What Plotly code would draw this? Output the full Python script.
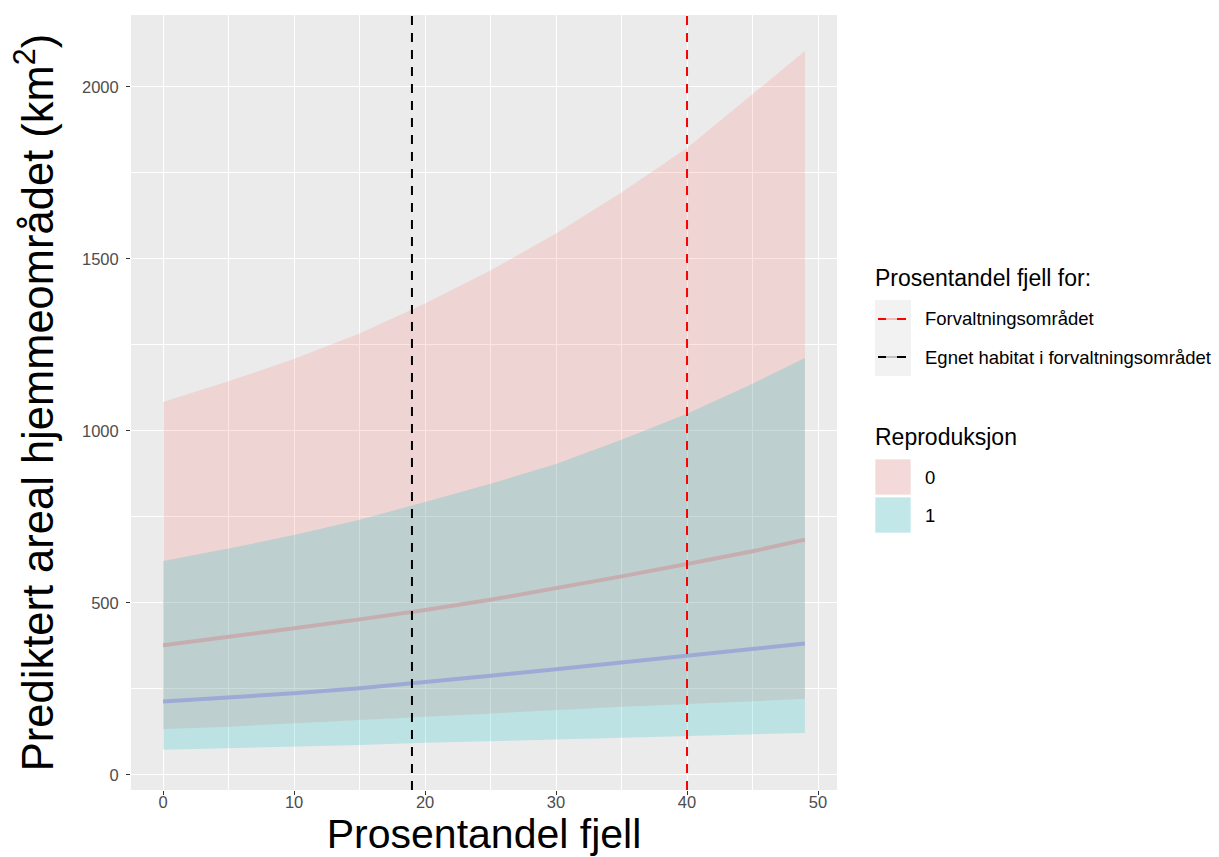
import plotly.graph_objects as go

# ---- data ----
prosent_fjell = [0, 5, 10, 15, 20, 25, 30, 35, 40, 45, 49]

# Reproduksjon = 0
fit_0 = [377, 401, 426, 452, 479, 509, 542, 577, 613, 650, 684]
lower_0 = [133, 140, 150, 160, 169, 180, 190, 198, 206, 215, 221]
upper_0 = [1084, 1144, 1209, 1283, 1370, 1466, 1574, 1693, 1822, 1978, 2104]

# Reproduksjon = 1
fit_1 = [213, 224, 237, 252, 269, 288, 307, 326, 345, 365, 382]
lower_1 = [73, 77, 82, 87, 93, 98, 103, 108, 113, 118, 122]
upper_1 = [622, 658, 697, 742, 793, 846, 904, 974, 1050, 1137, 1212]

# vertical reference lines
vline_labels = ["Forvaltningsområdet", "Egnet habitat i forvaltningsområdet"]
vline_values = [40, 19]
vline_colors = ["#FF0000", "#000000"]

repro_levels = ["0", "1"]
repro_fill = ["rgba(248,118,109,0.2)", "rgba(0,191,196,0.2)"]
line_colors = ["rgb(198,174,176)", "rgb(158,170,214)"]

FONT = "Liberation Sans, Arial, Helvetica, sans-serif"

fig = go.Figure()

ribbons = [(lower_0, upper_0), (lower_1, upper_1)]
for (lo, up), fc in zip(ribbons, repro_fill):
    fig.add_trace(go.Scatter(x=prosent_fjell, y=lo, mode="lines",
                             line=dict(width=0, color=fc), showlegend=False,
                             hoverinfo="skip"))
    fig.add_trace(go.Scatter(x=prosent_fjell, y=up, mode="lines",
                             line=dict(width=0, color=fc), fill="tonexty",
                             fillcolor=fc, showlegend=False, hoverinfo="skip"))

for fit, lc in zip([fit_0, fit_1], line_colors):
    fig.add_trace(go.Scatter(x=prosent_fjell, y=fit, mode="lines",
                             line=dict(width=4, color=lc),
                             showlegend=False))

shapes = []
for v, c in zip(vline_values, vline_colors):
    shapes.append(dict(type="line", xref="x", yref="paper", x0=v, x1=v, y0=0, y1=1,
                       line=dict(color=c, width=2, dash="9px,8px"), layer="above"))

# ---- manual legend (ggplot style) ----
L, R, T, B = 131, 382, 15, 67
W, H = 1219, 857
pw, ph = W - L - R, H - T - B


def px(x):
    return (x - L) / pw


def py(y):
    return (H - B - y) / ph


annotations = []


def text(x, y, s, size, color="#000000"):
    annotations.append(dict(x=px(x), y=py(y), xref="paper", yref="paper",
                            text=s, showarrow=False, xanchor="left",
                            yanchor="middle",
                            font=dict(family=FONT, size=size, color=color)))


text(873, 278, "Prosentandel fjell for:", 23)
shapes.append(dict(type="rect", xref="paper", yref="paper",
                   x0=px(875), x1=px(911), y0=py(300), y1=py(376),
                   fillcolor="#F2F2F2", line=dict(width=0)))
for i, (lab, col) in enumerate(zip(vline_labels, vline_colors)):
    yy = 319 + i * 38
    light = "rgba(255,120,120,0.45)" if col == "#FF0000" else "rgba(0,0,0,0.2)"
    for a, b, cc in [(878, 886, col), (886, 897, light), (897, 906, col)]:
        shapes.append(dict(type="line", xref="paper", yref="paper",
                           x0=px(a), x1=px(b), y0=py(yy), y1=py(yy),
                           line=dict(color=cc, width=2)))
    text(923, yy, lab, 18.5)

text(873, 437, "Reproduksjon", 23)
for i, (lab, fc) in enumerate(zip(repro_levels, repro_fill)):
    y0 = 459 + i * 38
    shapes.append(dict(type="rect", xref="paper", yref="paper",
                       x0=px(875), x1=px(911), y0=py(y0), y1=py(y0 + 36),
                       fillcolor="#F2F2F2", line=dict(width=0)))
    shapes.append(dict(type="rect", xref="paper", yref="paper",
                       x0=px(875), x1=px(911), y0=py(y0), y1=py(y0 + 36),
                       fillcolor=fc, line=dict(width=1, color="rgba(255,255,255,0.7)")))
    text(923, y0 + 18, lab, 18.5)

axis_common = dict(
    showgrid=True, gridcolor="#FFFFFF", gridwidth=1.4,
    zeroline=False, showline=False, automargin=False,
    ticks="outside", ticklen=4, tickwidth=1.1, tickcolor="#333333",
    tickfont=dict(family=FONT, size=16.5, color="#4D4D4D"),
)

fig.update_layout(
    width=W, height=H,
    margin=dict(l=L, r=R, t=T, b=B),
    paper_bgcolor="#FFFFFF", plot_bgcolor="#EBEBEB",
    showlegend=False,
    shapes=shapes, annotations=annotations,
    xaxis=dict(range=[-2.45, 51.45], tickmode="array",
               tickvals=[0, 10, 20, 30, 40, 50], ticklabelstandoff=-7,
               minor=dict(showgrid=True, gridcolor="#FFFFFF", gridwidth=0.7,
                          tickmode="array", tickvals=[5, 15, 25, 35, 45]),
               title=dict(text="Prosentandel fjell", standoff=10,
                          font=dict(family=FONT, size=41, color="#000000")),
               **axis_common),
    yaxis=dict(range=[-44, 2209], tickmode="array",
               tickvals=[0, 500, 1000, 1500, 2000], ticklabelstandoff=4,
               minor=dict(showgrid=True, gridcolor="#FFFFFF", gridwidth=0.7,
                          tickmode="array", tickvals=[250, 750, 1250, 1750]),
               title=dict(text="Prediktert areal hjemmeområdet (km<sup>2</sup>)",
                          standoff=14,
                          font=dict(family=FONT, size=43.5, color="#000000")),
               **axis_common),
)

fig.write_html("out.html")
